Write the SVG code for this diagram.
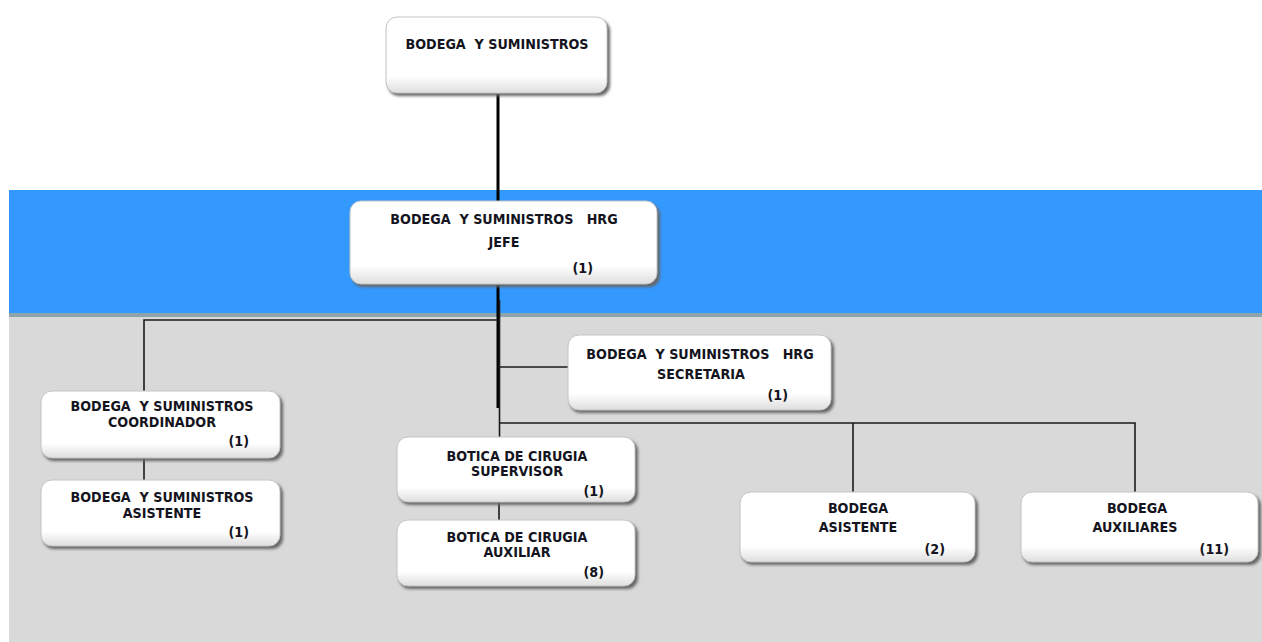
<svg xmlns="http://www.w3.org/2000/svg" width="1262" height="642" viewBox="0 0 1262 642">
  <defs>
    <filter id="soft" x="-10%" y="-20%" width="120%" height="140%">
      <feGaussianBlur stdDeviation="1.6"/>
    </filter>
    <linearGradient id="face" x1="0" y1="0" x2="0" y2="1">
      <stop offset="0" stop-color="#ffffff"/>
      <stop offset="0.78" stop-color="#ffffff"/>
      <stop offset="1" stop-color="#dedede"/>
    </linearGradient>
    <style>
      .shadow { fill: #666666; filter: url(#soft); }
      .face { fill: url(#face); stroke: #c4c4c4; stroke-width: 1; }
      .lbl { font-family: "DejaVu Sans Condensed", "DejaVu Sans", "Liberation Sans", sans-serif; font-weight: bold; font-size: 14.2px; fill: #141420; text-anchor: middle; white-space: pre; }
      .cnt { text-anchor: end; }
      .wire { stroke: #1a1a1a; stroke-width: 1.6; fill: none; }
      .trunk { stroke: #000; stroke-width: 3; fill: none; }
    </style>
  </defs>

  <!-- background bands -->
  <rect x="0" y="0" width="1262" height="642" fill="#ffffff"/>
  <rect x="9" y="190" width="1253" height="124" fill="#3399ff"/>
  <rect x="9" y="313" width="1253" height="4" fill="#8ca4aa"/>
  <rect x="9" y="317" width="1253" height="325" fill="#d9d9d9"/>

  <!-- connectors -->
  <g id="connectors">
    <line class="trunk" x1="498" y1="94" x2="498" y2="201"/>
    <line class="trunk" x1="498" y1="284" x2="498" y2="408"/>
    <line class="wire" x1="499.5" y1="300" x2="499.5" y2="438"/>
    <polyline class="wire" points="498,320 144,320 144,392"/>
    <line class="wire" x1="498" y1="367" x2="569" y2="367"/>
    <polyline class="wire" points="499,423 1135,423 1135,493"/>
    <line class="wire" x1="853" y1="423" x2="853" y2="493"/>
    <line class="wire" x1="144" y1="458" x2="144" y2="481"/>
    <line class="wire" x1="499" y1="502" x2="499" y2="521"/>
  </g>

  <!-- top -->
  <g id="n-bodega-suministros">
    <rect class="shadow" x="388" y="20" width="222" height="76" rx="11"/>
    <rect class="face" x="386" y="17" width="221" height="76" rx="11"/>
    <text class="lbl" x="497" y="49">BODEGA  Y SUMINISTROS</text>
  </g>

  <g id="n-jefe">
    <rect class="shadow" x="352" y="204" width="308" height="83" rx="11"/>
    <rect class="face" x="350" y="201" width="307" height="83" rx="11"/>
    <text class="lbl" x="504" y="224">BODEGA  Y SUMINISTROS   HRG</text>
    <text class="lbl" x="504" y="247">JEFE</text>
    <text class="lbl cnt" x="593" y="273">(1)</text>
  </g>

  <g id="n-secretaria">
    <rect class="shadow" x="570" y="338" width="264" height="75" rx="11"/>
    <rect class="face" x="568" y="335" width="263" height="75" rx="11"/>
    <text class="lbl" x="700" y="359">BODEGA  Y SUMINISTROS   HRG</text>
    <text class="lbl" x="701" y="379">SECRETARIA</text>
    <text class="lbl cnt" x="788" y="400">(1)</text>
  </g>

  <g id="n-coordinador">
    <rect class="shadow" x="43" y="394" width="240" height="67" rx="11"/>
    <rect class="face" x="41" y="391" width="239" height="67" rx="11"/>
    <text class="lbl" x="162" y="411">BODEGA  Y SUMINISTROS</text>
    <text class="lbl" x="162" y="427">COORDINADOR</text>
    <text class="lbl cnt" x="249" y="446">(1)</text>
  </g>

  <g id="n-asistente-bys">
    <rect class="shadow" x="43" y="483" width="240" height="66" rx="11"/>
    <rect class="face" x="41" y="480" width="239" height="66" rx="11"/>
    <text class="lbl" x="162" y="502">BODEGA  Y SUMINISTROS</text>
    <text class="lbl" x="162" y="518">ASISTENTE</text>
    <text class="lbl cnt" x="249" y="537">(1)</text>
  </g>

  <g id="n-supervisor">
    <rect class="shadow" x="399" y="440" width="239" height="65" rx="11"/>
    <rect class="face" x="397" y="437" width="238" height="65" rx="11"/>
    <text class="lbl" x="517" y="461">BOTICA DE CIRUGIA</text>
    <text class="lbl" x="517" y="476">SUPERVISOR</text>
    <text class="lbl cnt" x="604" y="496">(1)</text>
  </g>

  <g id="n-auxiliar">
    <rect class="shadow" x="399" y="523" width="239" height="66" rx="11"/>
    <rect class="face" x="397" y="520" width="238" height="66" rx="11"/>
    <text class="lbl" x="517" y="542">BOTICA DE CIRUGIA</text>
    <text class="lbl" x="517" y="557">AUXILIAR</text>
    <text class="lbl cnt" x="604" y="577">(8)</text>
  </g>

  <g id="n-bodega-asistente">
    <rect class="shadow" x="742" y="495" width="236" height="70" rx="11"/>
    <rect class="face" x="740" y="492" width="235" height="70" rx="11"/>
    <text class="lbl" x="858" y="513">BODEGA</text>
    <text class="lbl" x="858" y="532">ASISTENTE</text>
    <text class="lbl cnt" x="945" y="554">(2)</text>
  </g>

  <g id="n-bodega-auxiliares">
    <rect class="shadow" x="1023" y="495" width="238" height="70" rx="11"/>
    <rect class="face" x="1021" y="492" width="237" height="70" rx="11"/>
    <text class="lbl" x="1137" y="513">BODEGA</text>
    <text class="lbl" x="1135" y="532">AUXILIARES</text>
    <text class="lbl cnt" x="1229" y="554">(11)</text>
  </g>
</svg>
